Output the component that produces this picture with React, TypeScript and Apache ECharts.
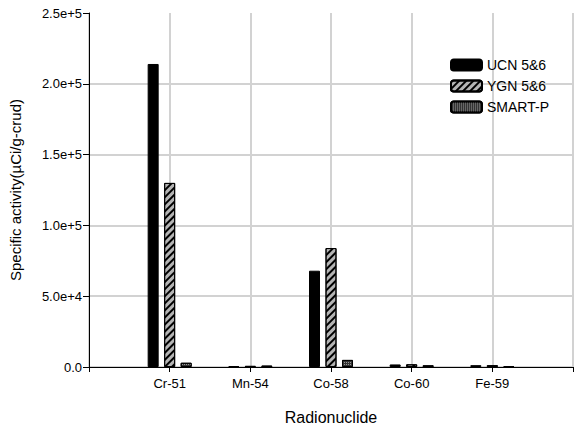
import React, { useEffect, useRef } from "react";
import * as echarts from "echarts";

const categories = ["Cr-51", "Mn-54", "Co-58", "Co-60", "Fe-59"];
const ucn = [214000, 600, 68000, 1800, 1300];
const ygn = [130000, 800, 84000, 1900, 1300];
const smart = [3000, 1000, 5000, 1200, 700];
const seriesNames = ["UCN 5&6", "YGN 5&6", "SMART-P"];
const yTicks = { min: 0, max: 250000, interval: 50000 };

const FONT = "Liberation Sans, Arial, sans-serif";
const GRID_COLOR = "#d2d2d2";

export default function App() {
  const ref = useRef<HTMLDivElement>(null);
  useEffect(() => {
    if (!ref.current) return;
    const chart = echarts.init(ref.current, null, { renderer: "svg" });
    const axisCats = ["", ...categories, ""];
    const pad = (a: number[]) => ["-", ...a, "-"];
    const common = {
      type: "bar" as const,
      barWidth: 11,
      barGap: "50%",
    };
    chart.setOption({
      animation: false,
      textStyle: { fontFamily: FONT },
      grid: { left: 89, top: 13, right: -5, bottom: 60, containLabel: false },
      legend: {
        orient: "vertical",
        left: 445,
        top: 53,
        itemWidth: 31,
        itemHeight: 11,
        itemGap: 7,
        textStyle: { fontSize: 14, color: "#000", fontFamily: FONT },
        data: seriesNames,
      },
      xAxis: {
        type: "category",
        data: axisCats,
        boundaryGap: false,
        axisLine: { lineStyle: { color: "#000", width: 1 } },
        axisTick: { show: true, interval: 0, length: 5, lineStyle: { color: "#000" } },
        axisLabel: { interval: 0, fontSize: 13, color: "#000", margin: 10 },
        splitLine: { show: true, interval: 0, lineStyle: { color: GRID_COLOR, width: 2, type: "solid" } },
        name: "Radionuclide",
        nameLocation: "middle",
        nameGap: 42,
        nameTextStyle: { fontSize: 16, color: "#000" },
      },
      yAxis: {
        type: "value",
        min: yTicks.min,
        max: yTicks.max,
        interval: yTicks.interval,
        axisLine: { show: true, lineStyle: { color: "#000", width: 1 } },
        axisTick: { show: true, length: 6, lineStyle: { color: "#000" } },
        axisLabel: {
          fontSize: 13,
          color: "#000",
          margin: 7,
          formatter: (v: number) => (v === 0 ? "0.0" : v.toExponential(1)),
        },
        splitLine: { show: true, showMaxLine: false, lineStyle: { color: GRID_COLOR, width: 2, type: "solid" } },
        name: "Specific activity(\u00b5Ci/g-crud)",
        nameLocation: "middle",
        nameGap: 66,
        nameTextStyle: { fontSize: 15, color: "#000" },
      },
      series: [
        {
          ...common,
          name: seriesNames[0],
          data: pad(ucn),
          itemStyle: { color: "#000", borderColor: "#000", borderWidth: 1 },
        },
        {
          ...common,
          name: seriesNames[1],
          data: pad(ygn),
          itemStyle: {
            color: "#b4b4b4",
            borderColor: "#000",
            borderWidth: 1,
            decal: {
              symbol: "rect",
              symbolSize: 1,
              color: "#000",
              dashArrayX: [1, 0],
              dashArrayY: [1.5, 2.5],
              rotation: -Math.PI / 4,
            },
          },
        },
        {
          ...common,
          name: seriesNames[2],
          data: pad(smart),
          itemStyle: {
            color: "#333",
            borderColor: "#000",
            borderWidth: 1,
            decal: {
              symbol: "rect",
              symbolSize: 1,
              color: "#9a9a9a",
              dashArrayX: [1, 1],
              dashArrayY: [1, 1],
              rotation: 0,
            },
          },
        },
      ],
    });
    return () => chart.dispose();
  }, []);
  return <div ref={ref} style={{ width: 576, height: 430, position: "absolute", left: 0, top: 0 }} />;
}
